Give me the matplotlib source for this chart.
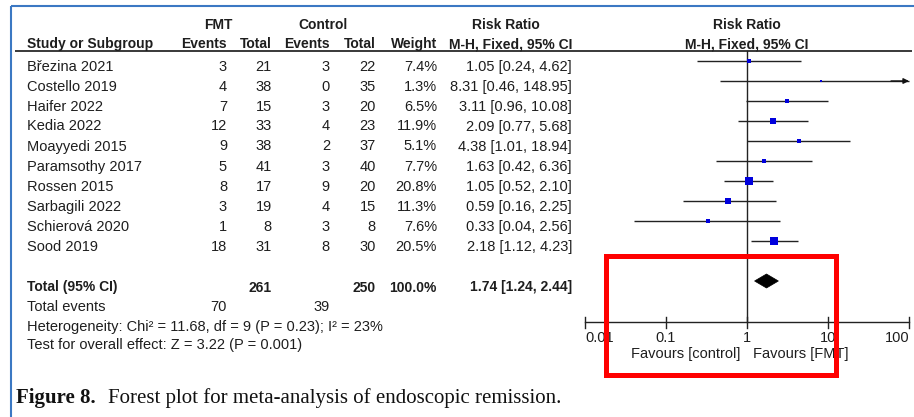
import numpy as np
import matplotlib.pyplot as plt
from matplotlib.patches import Polygon, Rectangle

plt.rcParams["font.family"] = ["Liberation Sans", "DejaVu Sans"]

# ---------------- data ----------------
studies = ["Březina 2021", "Costello 2019", "Haifer 2022", "Kedia 2022", "Moayyedi 2015",
           "Paramsothy 2017", "Rossen 2015", "Sarbagili 2022", "Schierová 2020", "Sood 2019"]
fmt_events = [3, 4, 7, 12, 9, 5, 8, 3, 1, 18]
fmt_total = [21, 38, 15, 33, 38, 41, 17, 19, 8, 31]
ctl_events = [3, 0, 3, 4, 2, 3, 9, 4, 3, 8]
ctl_total = [22, 35, 20, 23, 37, 40, 20, 15, 8, 30]
weight = [7.4, 1.3, 6.5, 11.9, 5.1, 7.7, 20.8, 11.3, 7.6, 20.5]
rr = [1.05, 8.31, 3.11, 2.09, 4.38, 1.63, 1.05, 0.59, 0.33, 2.18]
ci_lo = [0.24, 0.46, 0.96, 0.77, 1.01, 0.42, 0.52, 0.16, 0.04, 1.12]
ci_hi = [4.62, 148.95, 10.08, 5.68, 18.94, 6.36, 2.10, 2.25, 2.56, 4.23]

total_fmt_n, total_ctl_n = 261, 250
total_fmt_ev, total_ctl_ev = 70, 39
total_weight = 100.0
total_rr, total_lo, total_hi = 1.74, 1.24, 2.44

het_text = "Heterogeneity: Chi² = 11.68, df = 9 (P = 0.23); I² = 23%"
test_text = "Test for overall effect: Z = 3.22 (P = 0.001)"

axis_ticks = [0.01, 0.1, 1, 10, 100]
axis_ticklabels = ["0.01", "0.1", "1", "10", "100"]

# ---------------- layout (pixels) ----------------
W, H = 914, 417
ROW0, ROW_STEP = 61, 20
TXT_OFF = 9.5
X_STUDY = 27
X_FMT_EV, X_FMT_N = 227, 272
X_CTL_EV, X_CTL_N = 330, 376
X_WEIGHT, X_CI = 437, 572
PLOT_L, PLOT_R = 585, 909
AXIS_Y = 322
TXT = "#1e1e1e"
FS = 10.5
FS_BOLD = 10

fig = plt.figure(figsize=(W / 100, H / 100), dpi=100, facecolor="white")

bg = fig.add_axes([0, 0, 1, 1])
bg.set_xlim(0, W)
bg.set_ylim(H, 0)
bg.axis("off")


def put(x, y, s, ha="left", bold=False, **kw):
    bg.text(x, y, s, ha=ha, va="baseline", fontsize=FS_BOLD if bold else FS, color=TXT,
            fontweight="bold" if bold else "normal", **kw)


# blue frame
bg.plot([11, W], [6, 6], color="#3b78c3", lw=1.5, solid_capstyle="butt")
bg.plot([11, 11], [6, H], color="#3b78c3", lw=1.5, solid_capstyle="butt")

# headers
put(218, 29, "FMT", ha="center", bold=True)
put(323, 29, "Control", ha="center", bold=True)
put(506, 29, "Risk Ratio", ha="center", bold=True)
put(747, 29, "Risk Ratio", ha="center", bold=True)
put(X_STUDY, 48, "Study or Subgroup", bold=True)
put(X_FMT_EV, 48, "Events", ha="right", bold=True)
put(X_FMT_N, 48, "Total", ha="right", bold=True)
put(X_CTL_EV, 48, "Events", ha="right", bold=True)
put(X_CTL_N, 48, "Total", ha="right", bold=True)
put(X_WEIGHT, 48, "Weight", ha="right", bold=True)
put(X_CI, 48, "M-H, Fixed, 95% CI", ha="right", bold=True)
put(747, 48, "M-H, Fixed, 95% CI", ha="center", bold=True)
bg.plot([15, 912], [51, 51], color="#2a2a2a", lw=1.3, solid_capstyle="butt")

# study rows
for i, name in enumerate(studies):
    yb = ROW0 + ROW_STEP * i + TXT_OFF
    put(X_STUDY, yb, name)
    put(X_FMT_EV, yb, str(fmt_events[i]), ha="right")
    put(X_FMT_N, yb, str(fmt_total[i]), ha="right")
    put(X_CTL_EV, yb, str(ctl_events[i]), ha="right")
    put(X_CTL_N, yb, str(ctl_total[i]), ha="right")
    put(X_WEIGHT, yb, f"{weight[i]:.1f}%", ha="right")
    put(X_CI, yb, f"{rr[i]:.2f} [{ci_lo[i]:.2f}, {ci_hi[i]:.2f}]", ha="right")

# totals
tot_row = ROW0 + ROW_STEP * 11
yb = tot_row + TXT_OFF + 1
put(X_STUDY, yb, "Total (95% CI)", bold=True)
put(X_FMT_N, yb, str(total_fmt_n), ha="right", bold=True)
put(X_CTL_N, yb, str(total_ctl_n), ha="right", bold=True)
put(X_WEIGHT, yb, f"{total_weight:.1f}%", ha="right", bold=True)
put(X_CI, yb, f"{total_rr:.2f} [{total_lo:.2f}, {total_hi:.2f}]", ha="right", bold=True)
put(X_STUDY, 311, "Total events")
put(X_FMT_EV, 311, str(total_fmt_ev), ha="right")
put(X_CTL_EV, 311, str(total_ctl_ev), ha="right")
put(X_STUDY, 330.5, het_text)
put(X_STUDY, 349.5, test_text)

put(740, 358, "Favours [control]", ha="right")
put(753, 358, "Favours [FMT]")

# caption
bg.text(16, 403, "Figure 8.", ha="left", va="baseline", fontsize=15,
        family="Liberation Serif", fontweight="bold", color="#111111")
bg.text(108, 403, "Forest plot for meta-analysis of endoscopic remission.", ha="left",
        va="baseline", fontsize=15, family="Liberation Serif", color="#111111")

# ---------------- forest panel ----------------
ax = fig.add_axes([PLOT_L / W, 0, (PLOT_R - PLOT_L) / W, 1])
ax.set_xscale("log")
ax.set_xlim(axis_ticks[0], axis_ticks[-1])
ax.set_ylim(H, 0)
ax.axis("off")

ax.plot([1, 1], [51, AXIS_Y], color="#222222", lw=1.0, clip_on=False)

for i in range(len(studies)):
    y = ROW0 + ROW_STEP * i
    hi = min(ci_hi[i], axis_ticks[-1])
    ax.plot([ci_lo[i], hi], [y, y], color="#222222", lw=1.0, clip_on=False,
            solid_capstyle="butt")
    if ci_hi[i] > axis_ticks[-1]:
        ax.annotate("", xy=(axis_ticks[-1], y), xytext=(60, y),
                    arrowprops=dict(arrowstyle="-|>", color="#111111", lw=1.0,
                                    mutation_scale=8, shrinkA=0, shrinkB=0),
                    annotation_clip=False)
    side_pt = 1.8 * np.sqrt(weight[i]) * 0.72
    ax.scatter([rr[i]], [y], marker="s", s=side_pt ** 2, color="#0000dd",
               linewidths=0, zorder=3, clip_on=False)

# pooled diamond
ax.add_patch(Polygon([(total_lo, tot_row), (total_rr, tot_row - 7),
                      (total_hi, tot_row), (total_rr, tot_row + 7)],
                     closed=True, facecolor="black", edgecolor="black", lw=0.5,
                     clip_on=False))

# x axis
ax.plot([axis_ticks[0], axis_ticks[-1]], [AXIS_Y, AXIS_Y], color="#222222", lw=1.0,
        clip_on=False)
for t, lab in zip(axis_ticks, axis_ticklabels):
    ax.plot([t, t], [AXIS_Y - 5.5, AXIS_Y + 5.5], color="#222222", lw=1.0, clip_on=False)
    ha = "left" if t == axis_ticks[0] else ("right" if t == axis_ticks[-1] else "center")
    ax.text(t, 342, lab, ha=ha, va="baseline", fontsize=FS, color=TXT)

# highlight box
top = fig.add_axes([0, 0, 1, 1], zorder=10)
top.set_xlim(0, W)
top.set_ylim(H, 0)
top.axis("off")
top.patch.set_alpha(0)
top.add_patch(Rectangle((605.5, 255.5), 230, 119, fill=False, edgecolor="#ff0000",
                        lw=3.6, joinstyle="miter"))

fig.savefig("out.png", dpi=100, facecolor="white")
